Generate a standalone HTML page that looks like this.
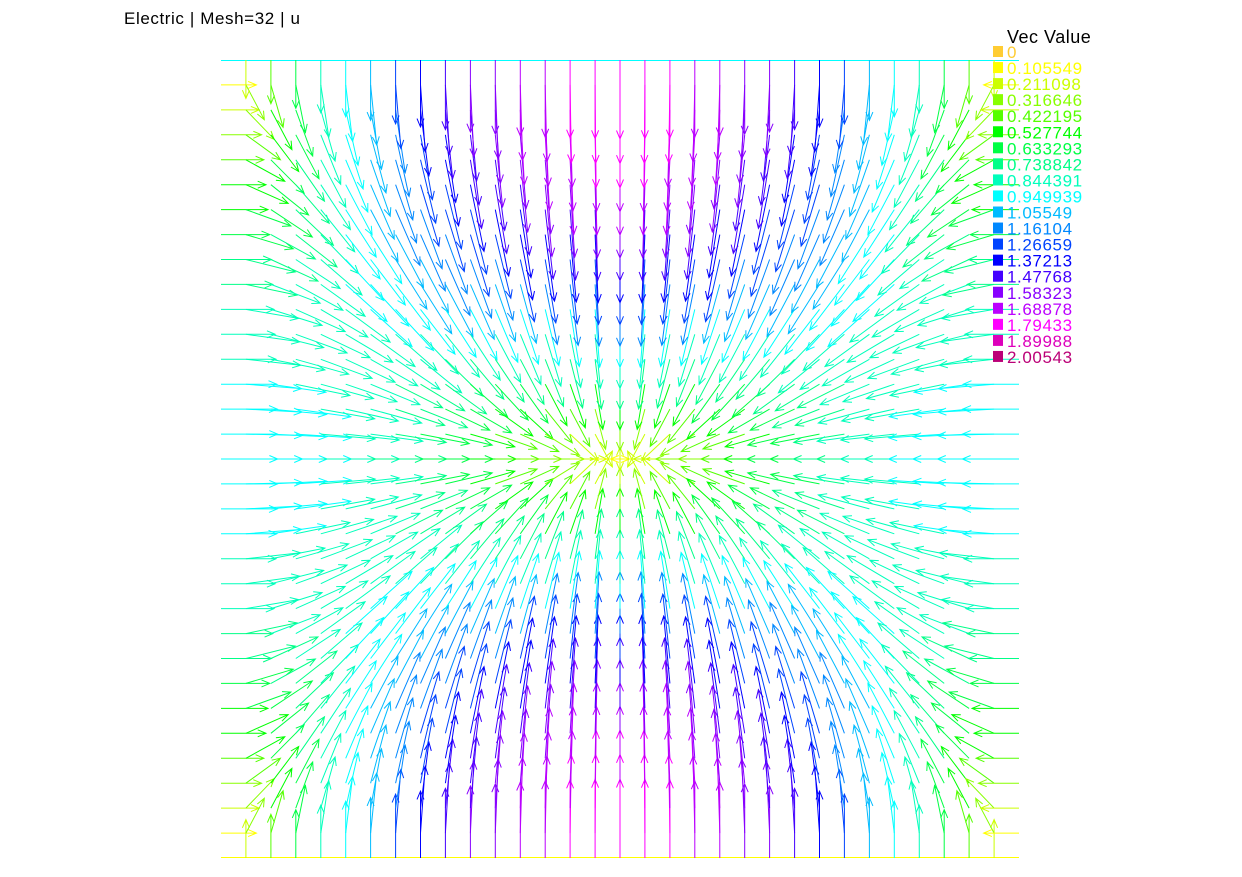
<!DOCTYPE html>
<html><head><meta charset="utf-8">
<style>
body{margin:0;background:#fff;}
svg{display:block;font-family:"Liberation Sans",sans-serif;}
</style></head>
<body>
<svg id="chart" width="1242" height="877" viewBox="0 0 1242 877">
<text x="124" y="24" font-size="17" letter-spacing="0.6" fill="#000">Electric | Mesh=32 | u</text>
<line x1="221" y1="60.5" x2="1019" y2="60.5" stroke="#00ffff" stroke-width="1"/>
<line x1="221" y1="857.5" x2="1019" y2="857.5" stroke="#ffff00" stroke-width="1"/>
<g id="arrows"></g>
<g id="legend">
<text x="1007" y="43" font-size="18" letter-spacing="0.5" fill="#000">Vec Value</text>
</g>
</svg>
<script>
const legendValues=["0","0.105549","0.211098","0.316646","0.422195","0.527744","0.633293","0.738842","0.844391","0.949939","1.05549","1.16104","1.26659","1.37213","1.47768","1.58323","1.68878","1.79433","1.89988","2.00543"];
const legendColors=["#ffcc33","#ffff00","#ccff00","#88ff00","#55ff00","#00ff00","#00ff44","#00ff88","#00ffbb","#00ffff","#00bbff","#0088ff","#0044ff","#0000ff","#4400ff","#8800ff","#bb00ff","#ff00ff","#dd00bb","#bb0077"];
const meshSize=[32];
const fieldAmpX=[0.95];
const fieldAmpY=[1.8];
const vmax=2.00543;
const NS="http://www.w3.org/2000/svg";
const x0=221,y0=60,W=798,H=798;
function sx(u){return x0+(u+1)/2*W;}
function sy(v){return y0+(1-v)/2*H;}
function colorOf(m){let i=Math.round(m/vmax*(legendColors.length-1));i=Math.max(0,Math.min(legendColors.length-1,i));return legendColors[i];}
const g=document.getElementById('arrows');
const n=meshSize[0];
for(let i=0;i<=n;i++){for(let j=0;j<=n;j++){
 const x=-1+2*i/n,y=-1+2*j/n;
 const gx=Math.pow(Math.abs(Math.cos(Math.PI*y/2)),0.85);
 const hy=Math.pow(Math.abs(Math.cos(Math.PI*x/2)),0.85);
 const ex=-fieldAmpX[0]*Math.sin(Math.PI*x/2)*gx;
 const ey=-fieldAmpY[0]*Math.sin(Math.PI*y/2)*hy;
 const m=Math.hypot(ex,ey);
 if(m<1e-6)continue;
 const L=32+26*m;
 const dx=ex/m,dy=-ey/m;
 const px=sx(x),py=sy(y),qx=px+dx*L,qy=py+dy*L;
 const c=colorOf(m);
 const p=document.createElementNS(NS,'path');
 const a=0.4,h=9;
 const c1=Math.cos(a),s1=Math.sin(a);
 const bx=-dx,by=-dy;
 const l1x=qx+h*(bx*c1-by*s1),l1y=qy+h*(bx*s1+by*c1);
 const l2x=qx+h*(bx*c1+by*s1),l2y=qy+h*(-bx*s1+by*c1);
 p.setAttribute('d',`M${px.toFixed(1)},${py.toFixed(1)}L${qx.toFixed(1)},${qy.toFixed(1)}M${l1x.toFixed(1)},${l1y.toFixed(1)}L${qx.toFixed(1)},${qy.toFixed(1)}L${l2x.toFixed(1)},${l2y.toFixed(1)}`);
 p.setAttribute('stroke',c);p.setAttribute('fill','none');p.setAttribute('stroke-width','1');
 
 
 g.appendChild(p);
}}
const lg=document.getElementById('legend');
legendValues.forEach((v,k)=>{
 const yy=52+k*16.05;
 const r=document.createElementNS(NS,'rect');
 r.setAttribute('x',993);r.setAttribute('y',yy-6);r.setAttribute('width',10);r.setAttribute('height',11);r.setAttribute('fill',legendColors[k]);
 
 
 lg.appendChild(r);
 const t=document.createElementNS(NS,'text');
 t.setAttribute('x',1007);t.setAttribute('y',yy+6);t.setAttribute('font-size','17');t.setAttribute('letter-spacing','0.6');t.setAttribute('fill',legendColors[k]);
 t.textContent=v;
 
 
 lg.appendChild(t);
});
</script>
</body></html>
